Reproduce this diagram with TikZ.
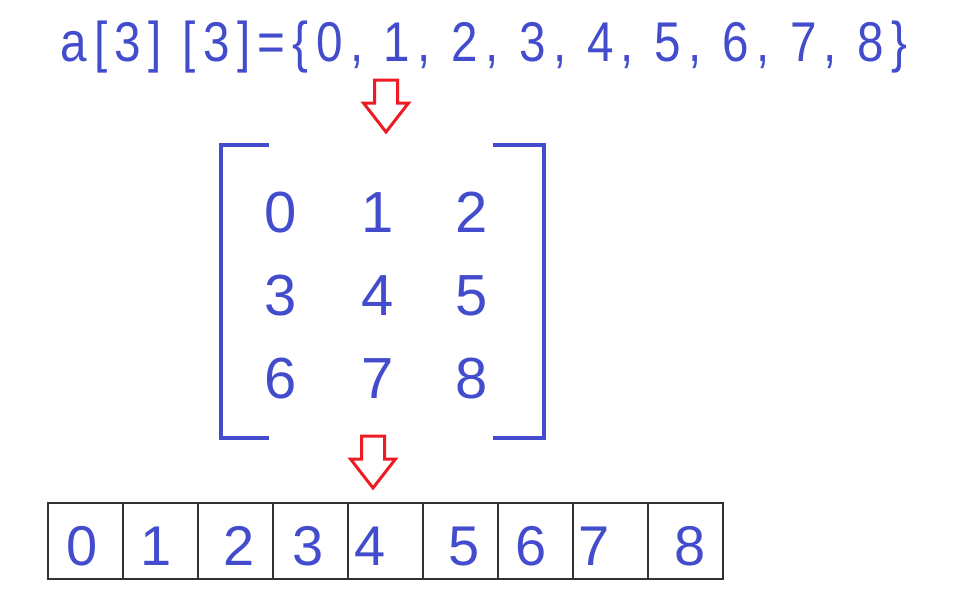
\documentclass[tikz,border=0pt]{standalone}
\usepackage{fontspec}
\setmainfont{Liberation Sans}
\newfontfamily\titlefont[FakeStretch=0.85, LetterSpace=13.2]{Liberation Sans}
\usetikzlibrary{positioning}
\definecolor{digitBlue}{RGB}{67,76,205}
\definecolor{arrowRed}{RGB}{237,28,36}
\definecolor{cellGray}{RGB}{50,50,50}

\begin{document}
\begin{tikzpicture}[
  x=1pt, y=-1pt,
  num/.style={anchor=base, inner sep=0pt, text=digitBlue,
              font=\fontsize{58}{60}\selectfont},
  cellnum/.style={num, font=\fontsize{56}{58}\selectfont},
  cell/.style={draw=cellGray, line width=1.6pt, anchor=north west,
               minimum width=75pt, minimum height=76pt, inner sep=0pt},
  bracket/.style={draw=digitBlue, line width=4pt},
  downarr/.pic={\draw[arrowRed, line width=3pt, line join=miter]
      (-11.5,0) -- (11.5,0) -- (11.5,23) -- (22.5,23) -- (0,52)
      -- (-22.5,23) -- (-11.5,23) -- cycle;}
]
  \useasboundingbox (0,0) rectangle (956,595);

  \node[anchor=base, inner sep=0pt, text=digitBlue,
        font=\titlefont\fontsize{56}{58}\selectfont] (title) at (484,61)
    {a[3] [3]=\{0, 1, 2, 3, 4, 5, 6, 7, 8\}};

  \pic (arrA) at (386,80) {downarr};

  \foreach \r/\y in {0/232,1/315,2/398}
    \foreach \c/\x in {0/281,1/378,2/472} {
      \pgfmathtruncatemacro\v{3*\r+\c}
      \node[num] (m\v) at (\x,\y) {\v};
    }
  \draw[bracket] (269,145) -- (221,145) -- (221,438) -- (269,438);
  \draw[bracket] (493,145) -- (544,145) -- (544,438) -- (493,438);

  \pic (arrB) at (373,436) {downarr};

  \foreach \k in {0,...,8}
    \node[cell] (c\k) at (47+\k*75,502) {};
  \foreach \v/\x in {0/82,1/156,2/239,3/308,4/370,5/464,6/531,7/594,8/690}
    \node[cellnum] (d\v) at (\x,565) {\v};
\end{tikzpicture}
\end{document}
